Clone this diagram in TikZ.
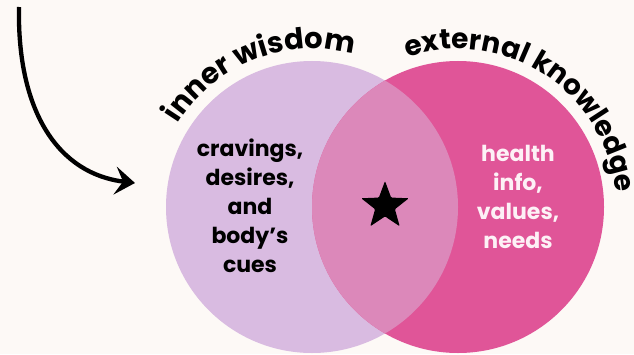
\documentclass[tikz,border=0pt]{standalone}
\usepackage{fontspec}
\setmainfont{Poppins}
\usetikzlibrary{shapes.geometric,decorations.text,arrows.meta}
\definecolor{bgcream}{HTML}{FDF9F6}
\definecolor{lavender}{HTML}{D9BBE1}
\definecolor{hotpink}{HTML}{E05598}
\definecolor{overlapc}{HTML}{DC88BA}
\definecolor{whitetxt}{HTML}{FDF1F6}
\tikzset{
  bodytext/.style={align=center, font=\fontsize{22}{29}\selectfont\bfseries},
  arclabel/.style 2 args={decorate, decoration={text along path, text align=center,
     text={|\fontsize{#1}{#1}\selectfont\bfseries|#2}}},
}
\begin{document}
\begin{tikzpicture}[x=1pt,y=1pt]
\fill[bgcream] (0,0) rectangle (634,354);
\useasboundingbox (0,0) rectangle (634,354);
% circles
\coordinate (lc) at (312,147);
\coordinate (rc) at (458,147);
\fill[lavender] (lc) circle[radius=146];
\fill[hotpink] (rc) circle[radius=146];
\begin{scope}
  \clip (lc) circle[radius=146];
  \fill[overlapc] (rc) circle[radius=146];
\end{scope}
% curved labels
\path[arclabel={29}{inner wisdom}] ([shift={(160:158)}]lc) arc[start angle=160, end angle=63, radius=158];
\path[arclabel={28}{external knowledge}] ([shift={(125:158)}]rc) arc[start angle=125, end angle=-11, radius=158];
% texts
\node[bodytext, text=black] (inner) at (250,148) {cravings,\\desires,\\and\\body’s\\cues};
\node[bodytext, text=whitetxt] (outer) at (518,157) {health\\info,\\values,\\needs};
\node[star, star points=5, star point ratio=2.4, minimum size=50pt, inner sep=0pt, fill=black, rounded corners=1pt] (star) at (385,148) {};
% arrow
\coordinate (arrowstart) at (19,347);
\coordinate (arrowend) at (135,171);
\draw[line width=4.3pt, -{Stealth[length=20pt,width=28pt,inset=8pt]}] (arrowstart) .. controls (17,240) and (60,180) .. (arrowend);
\end{tikzpicture}
\end{document}
